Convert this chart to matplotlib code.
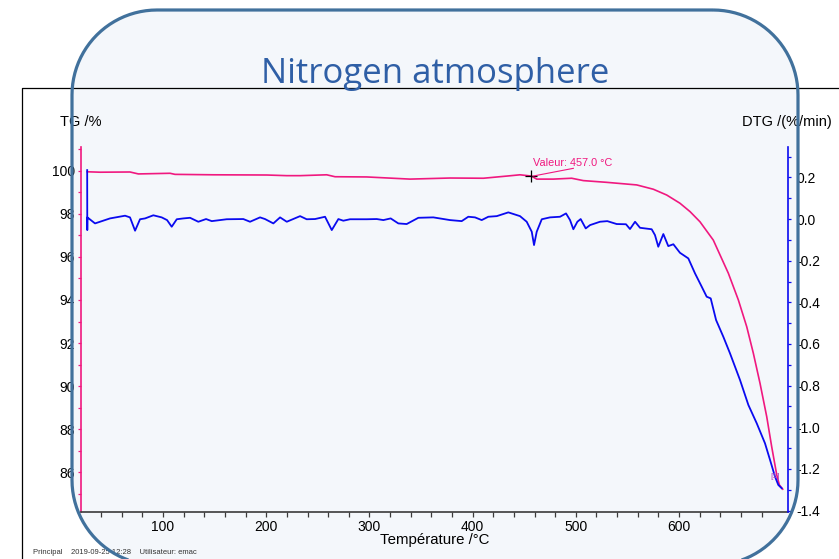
import numpy as np
import matplotlib.pyplot as plt
from matplotlib.patches import Polygon
from matplotlib.ticker import MultipleLocator, FixedLocator, FormatStrFormatter

plt.rcParams['font.family'] = ['Liberation Sans', 'DejaVu Sans']
plt.rcParams['axes.unicode_minus'] = False

# TG curve (temperature /°C, mass /%)
temp_tg = [26.6, 39.0, 68.0, 76.1, 106.8, 111.6, 148.7, 200.5, 219.9, 232.8,
           258.6, 266.7, 297.4, 339.3, 378.1, 410.4, 433.0, 445.9, 457.0, 462.1,
           478.2, 496.0, 507.3, 529.9, 559.0, 575.1, 588.1, 600.9, 610.7, 620.3,
           633.2, 647.8, 657.5, 665.6, 672.0, 678.5, 685.0, 689.8, 694.7, 697.2,
           700.5]
tg = [99.95, 99.93, 99.94, 99.85, 99.88, 99.83, 99.81, 99.80, 99.77, 99.77,
      99.81, 99.72, 99.71, 99.61, 99.66, 99.65, 99.75, 99.81, 99.75, 99.61,
      99.61, 99.65, 99.54, 99.46, 99.34, 99.14, 98.87, 98.49, 98.10, 97.63,
      96.78, 95.24, 94.00, 92.76, 91.53, 90.13, 88.58, 87.19, 85.88, 85.42,
      85.22]

# DTG curve (temperature /°C, %/min)
temp_dtg = [26.5, 26.6, 26.7, 34.1, 48.6, 63.2, 68.0, 72.9, 77.7, 82.6,
            90.6, 98.7, 103.9, 108.4, 113.3, 119.7, 126.2, 134.2, 141.7, 147.2,
            161.7, 177.8, 184.3, 194.0, 198.8, 206.9, 213.4, 219.9, 232.8, 239.2,
            247.3, 257.0, 263.5, 269.9, 274.7, 281.2, 297.4, 307.1, 313.5, 320.6,
            328.0, 336.1, 347.4, 361.9, 378.1, 389.4, 395.8, 402.3, 408.8, 415.2,
            423.4, 434.6, 445.9, 452.4, 457.3, 459.5, 462.1, 467.0, 475.0, 484.7,
            490.5, 494.4, 497.6, 501.5, 504.7, 509.6, 513.8, 523.4, 530.5, 539.6,
            548.6, 552.5, 557.4, 562.2, 573.5, 576.7, 579.9, 584.8, 589.6, 594.5,
            600.9, 609.0, 615.5, 622.0, 626.8, 630.7, 635.9, 642.9, 649.4, 659.1,
            667.2, 675.3, 683.3, 688.2, 693.0, 696.2, 699.5]
dtg = [0.235, -0.053, 0.008, -0.021, 0.003, 0.016, 0.008, -0.056, -0.001, 0.003,
       0.018, 0.008, -0.005, -0.037, -0.001, 0.003, 0.006, -0.013, 0.0, -0.010,
       -0.001, 0.0, -0.013, 0.008, 0.0, -0.021, 0.008, -0.013, 0.014, -0.001,
       0.0, 0.011, -0.053, 0.0, -0.008, -0.001, -0.001, 0.0, -0.005, 0.003,
       -0.021, -0.024, 0.006, 0.008, -0.005, -0.010, 0.011, 0.008, -0.005, 0.011,
       0.014, 0.032, 0.014, -0.013, -0.061, -0.125, -0.061, -0.001, 0.008, 0.011,
       0.027, -0.005, -0.049, -0.013, 0.0, -0.045, -0.029, -0.013, -0.010, -0.024,
       -0.025, -0.048, -0.013, -0.042, -0.049, -0.077, -0.133, -0.072, -0.130, -0.121,
       -0.162, -0.189, -0.261, -0.325, -0.373, -0.381, -0.485, -0.565, -0.645, -0.773,
       -0.893, -0.981, -1.077, -1.157, -1.237, -1.277, -1.293]

x_ticks = [100, 200, 300, 400, 500, 600]
marker_temp = 457.0
marker_tg = 99.75

W, H = 839, 559
pink = '#F0187F'
blue = '#0A0AF0'


def rounded_box(x0, y0, x1, y1, r):
    # outline of a rounded rectangle, y pointing down (pixel coords)
    pts = []
    for cx, cy, a in [(x1 - r, y0 + r, -90), (x1 - r, y1 - r, 0),
                      (x0 + r, y1 - r, 90), (x0 + r, y0 + r, 180)]:
        t = np.radians(np.linspace(a, a + 90, 25))
        pts += list(zip(cx + r * np.cos(t), cy + r * np.sin(t)))
    return np.array(pts)


box_pts = rounded_box(72, 10, 798, 565, 85)

fig = plt.figure(figsize=(W / 100, H / 100), dpi=100)

# slide background + instrument frame (pixel coords)
bg = fig.add_axes([0, 0, 1, 1])
bg.set_xlim(0, W)
bg.set_ylim(H, 0)
bg.axis('off')
bg.add_patch(Polygon(box_pts, closed=True, fc='#F4F7FB', ec='none', zorder=1))
bg.plot([22, 22, W], [H, 88, 88], color='black', lw=0.9, zorder=2)
bg.text(60, 122, 'TG /%', fontsize=10.5, va='center', ha='left')
bg.text(742, 122, 'DTG /(%/min)', fontsize=10.5, va='center', ha='left')
bg.text(435, 540, 'Température /°C', fontsize=10.8, va='center', ha='center')
bg.text(33, 552, 'Principal    2019-09-25 12:28    Utilisateur: emac', fontsize=5.5,
        color='#333333', va='center', ha='left')

# chart
ax = fig.add_axes([81.3 / W, 1 - 512 / H, (788 - 81.3) / W, (512 - 147) / H])
ax.set_facecolor('none')
ax2 = ax.twinx()

ax.plot(temp_tg, tg, color=pink, lw=1.2)
ax2.plot(temp_dtg, dtg, color=blue, lw=1.3)

ax.set_xlim(20.8, 705.6)
ax.set_ylim(84.16, 101.10)
ax2.set_ylim(-1.407, 0.346)

for s in ['top', 'right']:
    ax.spines[s].set_visible(False)
for s in ['top', 'left', 'bottom']:
    ax2.spines[s].set_visible(False)
ax.spines['left'].set_color(pink)
ax.spines['left'].set_linewidth(1.2)
ax.spines['bottom'].set_color('#3a3a3a')
ax.spines['bottom'].set_linewidth(1.2)
ax2.spines['right'].set_color(blue)
ax2.spines['right'].set_linewidth(1.2)

ax.xaxis.set_major_locator(FixedLocator(x_ticks))
ax.xaxis.set_minor_locator(FixedLocator(np.arange(40, 700, 20)))
ax.tick_params(axis='x', which='both', direction='out', length=3.5, width=0.9,
               colors='#3a3a3a', labelcolor='black', labelsize=10, pad=2)
ax.yaxis.set_major_locator(MultipleLocator(2))
ax.yaxis.set_minor_locator(MultipleLocator(1))
ax.tick_params(axis='y', which='both', direction='out', length=2.5, width=0.9,
               colors=pink, labelcolor='black', labelsize=10, pad=2)
ax2.yaxis.set_major_locator(MultipleLocator(0.2))
ax2.yaxis.set_minor_locator(MultipleLocator(0.1))
ax2.yaxis.set_major_formatter(FormatStrFormatter('%.1f'))
ax2.tick_params(axis='y', which='both', direction='out', length=2.5, width=0.9,
                colors=blue, labelcolor='black', labelsize=10, pad=3.5)

# marker and note
ax.plot([marker_temp], [marker_tg], marker='+', color='black', ms=8, mew=0.9)
ax.plot([marker_temp + 1.5, 497.6], [marker_tg, 100.11], color=pink, lw=0.8)
ax.text(458.2, 100.38, 'Valeur: 457.0 °C', fontsize=7.8, color=pink, va='center', ha='left')
ax2.text(693.5, -1.237, '[1]', fontsize=6, color='#B040C0', va='center', ha='center')

# slide border and title on top
top = fig.add_axes([0, 0, 1, 1])
top.set_facecolor('none')
top.set_xlim(0, W)
top.set_ylim(H, 0)
top.axis('off')
top.add_patch(Polygon(box_pts, closed=True, fill=False, ec='#41719C', lw=2.3))
top.text(435, 83, 'Nitrogen atmosphere', fontsize=25, color='#2F5FA6',
         family=['Open Sans', 'DejaVu Sans'], va='baseline', ha='center')

fig.savefig('out.png', dpi=100)
